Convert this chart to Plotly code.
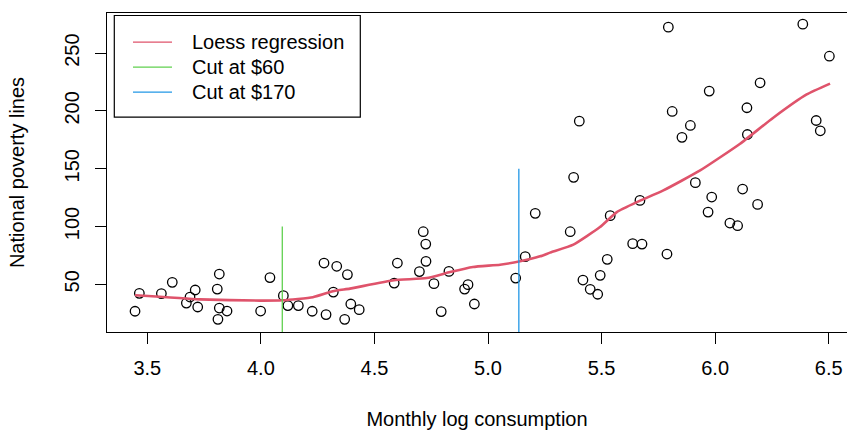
import plotly.graph_objects as go
import numpy as np

# ---- data ----
log_cons = [3.446, 3.465, 3.562, 3.610, 3.672, 3.688, 3.711, 3.722, 3.808, 3.817,
            3.817, 3.811, 3.851, 3.999, 4.040, 4.099, 4.119, 4.165, 4.226, 4.287,
            4.369, 4.278, 4.334, 4.381, 4.319, 4.396, 4.433, 4.587, 4.601, 4.698,
            4.715, 4.726, 4.727, 4.762, 4.794, 4.828, 4.897, 4.912, 4.940, 5.122,
            5.164, 5.208, 5.377, 5.362, 5.418, 5.450, 5.483, 5.494, 5.525, 5.538,
            5.637, 5.678, 5.669, 5.788, 5.913, 5.402, 5.794, 6.386, 6.503, 6.198,
            5.974, 5.811, 6.140, 5.891, 5.854, 6.142, 6.445, 6.463, 5.985, 5.969,
            6.121, 6.187, 6.065, 6.099]
poverty_line = [26.7, 42.2, 42.0, 51.7, 33.8, 39.0, 45.1, 30.4, 45.9, 58.9,
                29.5, 19.7, 26.9, 26.9, 55.8, 40.2, 31.6, 31.6, 26.7, 23.8,
                19.7, 68.4, 65.6, 58.4, 43.3, 33.0, 28.1, 51.1, 68.4, 61.0,
                95.5, 84.8, 69.9, 50.6, 26.4, 61.2, 45.9, 49.7, 33.0, 55.4,
                73.9, 111.4, 142.5, 95.5, 53.7, 45.7, 41.4, 57.8, 71.6, 109.4,
                85.2, 84.8, 122.6, 76.2, 137.9, 191.1, 272.4, 275.0, 247.3, 224.3,
                217.1, 199.5, 202.7, 187.4, 177.1, 179.6, 191.7, 182.8, 125.5, 112.5,
                132.4, 119.1, 103.0, 100.7]

loess_x = [3.446, 3.732, 3.996, 4.097, 4.229, 4.317, 4.392, 4.586, 4.730, 4.833,
           4.934, 5.053, 5.141, 5.229, 5.273, 5.376, 5.493, 5.567, 5.655, 5.772,
           5.934, 6.110, 6.256, 6.403, 6.506]
loess_y = [40.5, 37.0, 35.9, 36.2, 38.8, 44.0, 46.3, 53.5, 55.4, 60.6,
           65.0, 67.0, 69.9, 74.2, 77.4, 84.3, 99.5, 112.5, 121.1, 131.2,
           148.5, 171.6, 194.1, 214.2, 223.6]

cut_values = [60, 170]          # dollars
cut_heights = [100, 150]        # segment tops
cut_labels = ["Cut at $60", "Cut at $170"]
legend_labels = ["Loess regression"] + cut_labels

x_ticks = [3.5, 4.0, 4.5, 5.0, 5.5, 6.0, 6.5]
y_ticks = [50, 100, 150, 200, 250]

RED, GREEN, BLUE = "#DF536B", "#61D04F", "#2297E6"
FONT = "Liberation Sans, Arial, sans-serif"
FS = 20

W, H = 847, 432
ML, MR, MT, MB = 107, 0, 12.5, 100.3
PW, PH = W - ML - MR, H - MT - MB

fig = go.Figure()

fig.add_trace(go.Scatter(
    x=log_cons, y=poverty_line, mode="markers", showlegend=False,
    marker=dict(symbol="circle-open", size=9.5, color="black", line=dict(width=1.3)),
))

fig.add_trace(go.Scatter(
    x=loess_x, y=loess_y, mode="lines", showlegend=False,
    line=dict(color=RED, width=2.6, shape="spline", smoothing=0.45),
))

for val, top, col in zip(cut_values, cut_heights, [GREEN, BLUE]):
    lx = float(np.log(val))
    fig.add_trace(go.Scatter(
        x=[lx, lx], y=[0, top], mode="lines", showlegend=False,
        line=dict(color=col, width=1.3),
    ))

# ---- manual legend (R style) ----
def px2paper_x(px):
    return (px - ML) / PW

def px2paper_y(py):
    return 1 - (py - MT) / PH

shapes = [dict(type="rect", xref="paper", yref="paper",
               x0=px2paper_x(114.3), x1=px2paper_x(360.3),
               y0=px2paper_y(116.7), y1=px2paper_y(15),
               line=dict(color="black", width=1.2), fillcolor="white", layer="above")]
annotations = []
row_y = [41.7, 66.7, 91.7]
for lab, col, ry in zip(legend_labels, [RED, GREEN, BLUE], row_y):
    shapes.append(dict(type="line", xref="paper", yref="paper",
                       x0=px2paper_x(133), x1=px2paper_x(172),
                       y0=px2paper_y(ry), y1=px2paper_y(ry),
                       line=dict(color=col, width=1.2), layer="above"))
    annotations.append(dict(text=lab, xref="paper", yref="paper",
                            x=px2paper_x(190), y=px2paper_y(ry),
                            xanchor="left", yanchor="middle", showarrow=False,
                            font=dict(family=FONT, size=FS, color="black")))

x_lo = 3.5 - (147.3 - ML) / 227.13
x_hi = 3.5 + (W - MR - 147.3) / 227.13
y_lo = 50 - (331.7 - 284) / 1.157
y_hi = 50 + (284 - 12.5) / 1.157

fig.update_layout(
    width=W, height=H,
    margin=dict(l=ML, r=MR, t=MT, b=MB, pad=0),
    paper_bgcolor="white", plot_bgcolor="white",
    font=dict(family=FONT, size=FS, color="black"),
    shapes=shapes, annotations=annotations,
    xaxis=dict(
        range=[x_lo, x_hi], tickvals=x_ticks, tickformat=".1f",
        showgrid=False, zeroline=False,
        showline=True, mirror=True, linecolor="black", linewidth=1.2,
        ticks="outside", ticklen=11, tickwidth=1.2, tickcolor="black",
        ticklabelstandoff=7,
        title=dict(text="Monthly log consumption", standoff=33,
                   font=dict(family=FONT, size=FS)),
    ),
    yaxis=dict(
        range=[y_lo, y_hi], tickvals=y_ticks, tickangle=-90,
        showgrid=False, zeroline=False,
        showline=True, mirror=False, linecolor="black", linewidth=1.2,
        ticks="outside", ticklen=11, tickwidth=1.2, tickcolor="black",
        ticklabelstandoff=8,
        title=dict(text="National poverty lines", standoff=30,
                   font=dict(family=FONT, size=FS)),
    ),
)

fig.write_html("out.html")
